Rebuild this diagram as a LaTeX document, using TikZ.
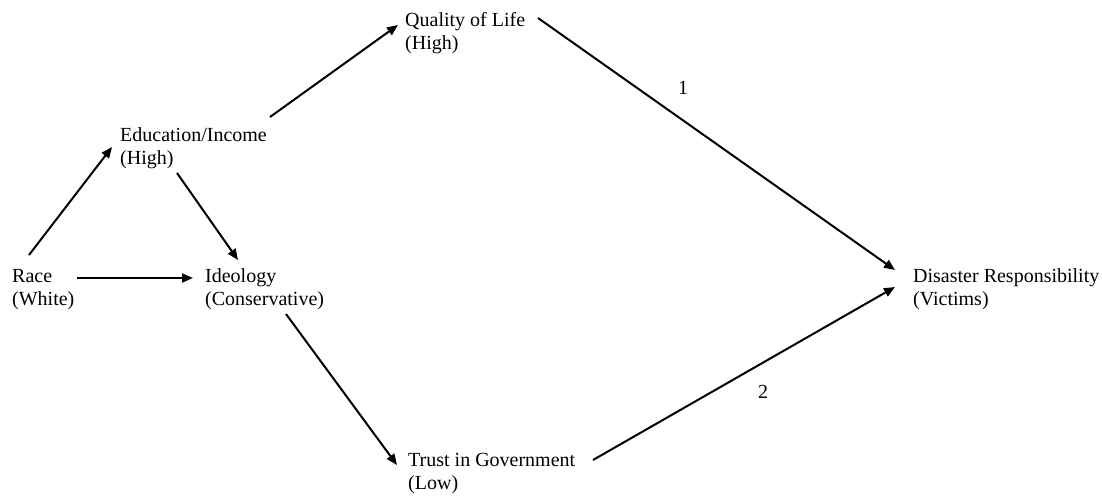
\documentclass[tikz,border=0pt]{standalone}
\usepackage{fontspec}
\setmainfont{Liberation Serif}
\usetikzlibrary{arrows.meta,calc}
\begin{document}
\begin{tikzpicture}[x=1pt,y=-1pt,
  lbl/.style={anchor=base west, align=left, inner sep=0pt, font=\fontsize{20}{23}\selectfont},
  num/.style={inner sep=0pt, font=\fontsize{20}{23}\selectfont},
  arr/.style={-{Triangle[length=11pt,width=9pt]}, line width=2pt}]
\useasboundingbox (0,0) rectangle (1102,495);
\node[lbl] (race)  at (12,305)  {Race\\(White)};
\node[lbl] (edu)   at (120,164) {Education/Income\\(High)};
\node[lbl] (ideo)  at (205,305) {Ideology\\(Conservative)};
\node[lbl] (qol)   at (405,49)  {Quality of Life\\(High)};
\node[lbl] (trust) at (408,489) {Trust in Government\\(Low)};
\node[lbl] (dis)   at (913,305) {Disaster Responsibility\\(Victims)};
\node[num] (n1) at (683,88) {1};
\node[num] (n2) at (763,392) {2};
\draw[arr] ($(race.base west)+(17,-50)$) -- ($(edu.base west)+(-8,-17)$);
\draw[arr] ($(race.base west)+(65,-27)$) -- ($(ideo.base west)+(-12,-27)$);
\draw[arr] ($(edu.base west)+(57,9)$) -- ($(ideo.base west)+(33,-45)$);
\draw[arr] ($(edu.base west)+(150,-47)$) -- ($(qol.base west)+(-7,-24)$);
\draw[arr] ($(ideo.base west)+(81,9)$) -- ($(trust.base west)+(-11,-24)$);
\draw[arr] ($(qol.base west)+(133,-31)$) -- ($(dis.base west)+(-18,-35)$);
\draw[arr] ($(trust.base west)+(185,-29)$) -- ($(dis.base west)+(-18,-18)$);
\end{tikzpicture}
\end{document}
